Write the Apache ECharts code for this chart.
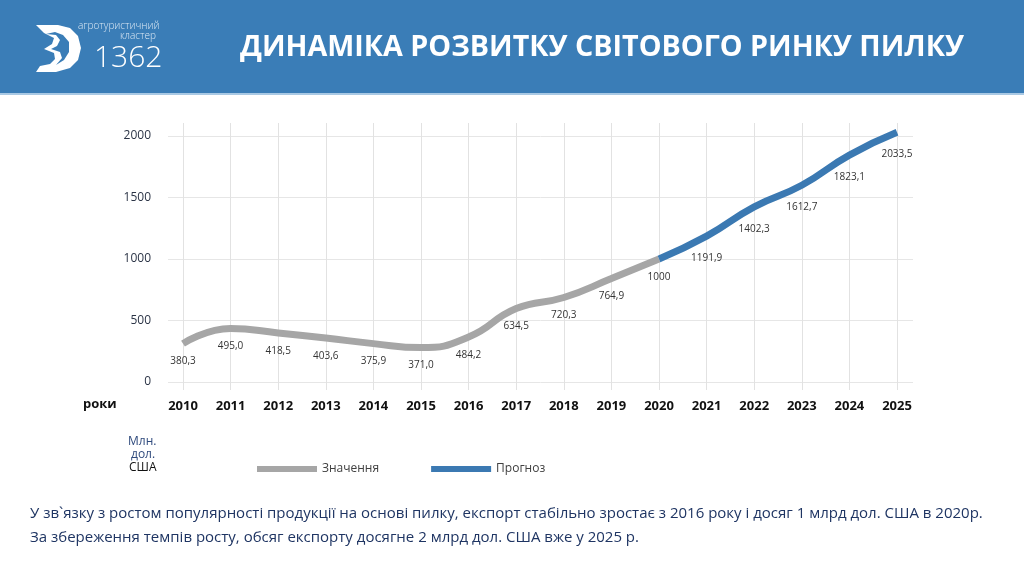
<!DOCTYPE html>
<html>
<head>
<meta charset="utf-8">
<script src="https://cdn.jsdelivr.net/npm/echarts@6/dist/echarts.min.js"></script>
<style>
  html, body { margin: 0; padding: 0; background: #fff; }
  #main { width: 1024px; height: 578px; }
</style>
</head>
<body>
<div id="main"></div>
<script>
// роки
var years = ['2010','2011','2012','2013','2014','2015','2016','2017','2018','2019','2020','2021','2022','2023','2024','2025'];
// значення, як їх малює лінія (млн. дол. США)
var factValues = [312, 435, 399, 358, 312, 280, 366, 597, 687, 841, 1000, null, null, null, null, null];
var forecastValues = [null, null, null, null, null, null, null, null, null, null, 1000, 1186, 1424, 1600, 1845, 2030];
// підписи точок
var pointLabels = ['380,3','495,0','418,5','403,6','375,9','371,0','484,2','634,5','720,3','764,9','1000','1191,9','1402,3','1612,7','1823,1','2033,5'];
var yTicks = [0, 500, 1000, 1500, 2000];

var chart = echarts.init(document.getElementById('main'));

var labelStyle = function(skip, dist){
	return {
		show: true,
		position: 'bottom',
		distance: dist,
		color: '#333',
		fontSize: 10,
		fontFamily: 'Open Sans',
		formatter: function(p){
			return p.dataIndex === skip ? '' : pointLabels[p.dataIndex];
		}
	};
};

var option = {
	backgroundColor: '#fff',
	animation: false,
	textStyle: { fontFamily: 'Open Sans' },
	legend: {
		left: 252,
		top: 458,
		itemWidth: 60,
		itemHeight: 6,
		itemGap: 52,
		icon: 'rect',
		textStyle: { color: '#404040', fontSize: 12, fontFamily: 'Open Sans' },
		data: ['Значення', 'Прогноз']
	},
	grid: [
		{ left: 168, right: 111, top: 136, bottom: 196 },
		{ left: 183, right: 127, top: 123, bottom: 188 }
	],
	xAxis: [
		{ gridIndex: 0, type: 'value', show: false, min: 0, max: 1 },
		{
			gridIndex: 1,
			type: 'category',
			data: years,
			boundaryGap: false,
			axisLine: { show: false },
			axisTick: { show: false },
			axisLabel: { color: '#111', fontSize: 13, fontWeight: 'bold', margin: 10, fontFamily: 'Open Sans' },
			splitLine: { show: true, lineStyle: { color: '#e2e2e2', width: 1 } }
		}
	],
	yAxis: [
		{
			gridIndex: 0,
			type: 'value',
			min: 0,
			max: 2000,
			interval: 500,
			axisLine: { show: false },
			axisTick: { show: false },
			axisLabel: {
				color: '#2b3446',
				fontSize: 12,
				margin: 17,
				fontFamily: 'Open Sans',
				formatter: function(v){ return yTicks.indexOf(v) >= 0 ? String(v) : ''; }
			},
			splitLine: { lineStyle: { color: '#e6e6e6', width: 1 } }
		},
		{ gridIndex: 1, type: 'value', show: false, min: -65, max: 2106, splitLine: { show: false } }
	],
	series: [
		{
			name: 'Значення',
			type: 'line',
			xAxisIndex: 1,
			yAxisIndex: 1,
			smooth: 0.5,
			symbol: 'circle',
			symbolSize: 0,
			showSymbol: true,
			color: '#a6a6a6',
			lineStyle: { width: 7, color: '#a6a6a6' },
			label: labelStyle(-1, 13),
			labelLayout: { hideOverlap: false },
			data: factValues,
			z: 3
		},
		{
			name: 'Прогноз',
			type: 'line',
			xAxisIndex: 1,
			yAxisIndex: 1,
			smooth: 0.5,
			symbol: 'circle',
			symbolSize: 0,
			showSymbol: true,
			color: '#3b79b2',
			lineStyle: { width: 7, color: '#3b79b2' },
			label: labelStyle(10, 17),
			labelLayout: { hideOverlap: false },
			data: forecastValues,
			z: 4
		}
	],
	graphic: [
		// шапка
		{ type: 'rect', left: 0, top: 0, shape: { width: 1024, height: 93 }, style: { fill: '#3a7db7' }, z: 1 },
		{ type: 'rect', left: 0, top: 93, shape: { width: 1024, height: 2 }, style: { fill: '#a9c9e4' }, z: 1 },
		{
			type: 'text', left: 240, top: 33, z: 2,
			style: {
				text: 'ДИНАМІКА РОЗВИТКУ СВІТОВОГО РИНКУ ПИЛКУ',
				fill: '#fff',
				font: 'bold 28.7px "Open Sans"'
			}
		},
		// логотип
		{
			type: 'polygon', z: 2,
			shape: {
				points: [[36,25],[58,25],[70,28],[78,36],[81,48],[78,60],[70,68],[56,72],[36,72],[40,66],[50,64],[55,59],[54,53],[44,49],[52,44],[54,38],[44,33]]
			},
			style: { fill: '#fff' }
		},
		{
			type: 'polygon', z: 3,
			shape: {
				points: [[46,34],[56,35],[60,40],[57,46],[51,49],[60,52],[62,58],[56,65],[64,60],[69,52],[69,42],[63,35],[55,32]]
			},
			style: { fill: '#3a7db7' }
		},
		{ type: 'text', left: 78, top: 21, z: 2, style: { text: 'агротуристичний', fill: '#dce9f5', font: '300 10px "Open Sans"' } },
		{ type: 'text', left: 120, top: 31, z: 2, style: { text: 'кластер', fill: '#dce9f5', font: '300 10px "Open Sans"' } },
		{ type: 'text', left: 94, top: 43, z: 2, style: { text: '1362', fill: '#fff', font: '300 30px "Open Sans"' } },
		// підписи осей
		{ type: 'text', left: 83, top: 398, style: { text: 'роки', fill: '#111', font: 'bold 13px "Open Sans"' } },
		{ type: 'text', left: 128, top: 436, style: { text: 'Млн.', fill: '#2f4a7d', font: '12px "Open Sans"' } },
		{ type: 'text', left: 131, top: 449, style: { text: 'дол.', fill: '#2f4a7d', font: '12px "Open Sans"' } },
		{ type: 'text', left: 129, top: 462, style: { text: 'США', fill: '#111', font: '12px "Open Sans"' } },
		// коментар
		{
			type: 'text', left: 30, top: 506,
			style: {
				text: 'У зв`язку з ростом популярності продукції на основі пилку, експорт стабільно зростає з 2016 року і досяг 1 млрд дол. США в 2020р.',
				fill: '#1f3563',
				font: '15px "Open Sans"'
			}
		},
		{
			type: 'text', left: 30, top: 530,
			style: {
				text: 'За збереження темпів росту, обсяг експорту досягне 2 млрд дол. США вже у 2025 р.',
				fill: '#1f3563',
				font: '15px "Open Sans"'
			}
		}
	]
};

chart.setOption(option);
</script>
</body>
</html>
